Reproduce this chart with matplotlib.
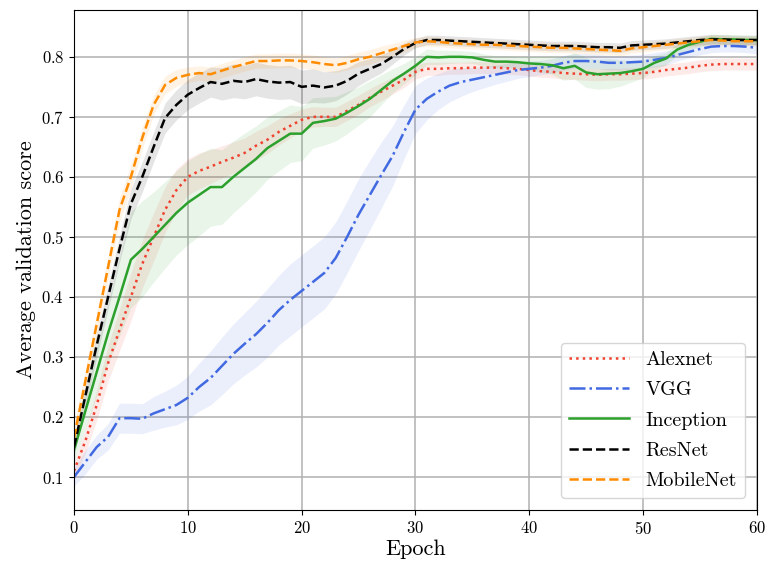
import matplotlib
matplotlib.use("Agg")
import matplotlib.pyplot as plt
import numpy as np

plt.rcParams["font.family"] = "serif"
plt.rcParams["font.serif"] = ["cmr10", "DejaVu Serif"]
plt.rcParams["mathtext.fontset"] = "cm"
plt.rcParams["axes.formatter.use_mathtext"] = True

epochs = np.arange(61)

alexnet = [0.11, 0.16, 0.22, 0.29, 0.345, 0.40, 0.455, 0.50, 0.545, 0.578,
           0.60, 0.61, 0.617, 0.625, 0.632, 0.64, 0.652, 0.662, 0.675, 0.685,
           0.695, 0.70, 0.70, 0.70, 0.71, 0.72, 0.732, 0.742, 0.752, 0.762,
           0.775, 0.78, 0.78, 0.781, 0.781, 0.782, 0.782, 0.782, 0.781, 0.78,
           0.778, 0.776, 0.775, 0.773, 0.772, 0.771, 0.77, 0.771, 0.771, 0.772,
           0.773, 0.775, 0.778, 0.78, 0.782, 0.785, 0.787, 0.788, 0.788, 0.788,
           0.788]
alexnet_std = [0.015, 0.02, 0.025, 0.03, 0.035, 0.04, 0.04, 0.04, 0.038, 0.035,
               0.03, 0.03, 0.028, 0.027, 0.026, 0.025, 0.024, 0.023, 0.022, 0.02,
               0.018, 0.017, 0.016, 0.016, 0.016, 0.016, 0.015, 0.015, 0.014, 0.013,
               0.012, 0.011, 0.011, 0.01, 0.01, 0.01, 0.01, 0.01, 0.01, 0.01,
               0.01, 0.01, 0.01, 0.01, 0.01, 0.01, 0.01, 0.01, 0.01, 0.01,
               0.01, 0.01, 0.01, 0.01, 0.01, 0.01, 0.01, 0.01, 0.01, 0.01,
               0.01]

vgg = [0.10, 0.125, 0.15, 0.167, 0.198, 0.198, 0.197, 0.206, 0.213, 0.22,
       0.232, 0.25, 0.265, 0.285, 0.305, 0.322, 0.338, 0.357, 0.378, 0.395,
       0.41, 0.425, 0.44, 0.465, 0.50, 0.537, 0.57, 0.603, 0.635, 0.675,
       0.712, 0.73, 0.742, 0.752, 0.758, 0.762, 0.766, 0.77, 0.774, 0.778,
       0.78, 0.782, 0.785, 0.79, 0.793, 0.793, 0.792, 0.79, 0.79, 0.791,
       0.792, 0.795, 0.798, 0.803, 0.808, 0.813, 0.817, 0.818, 0.818, 0.817,
       0.815]
vgg_std = [0.015, 0.02, 0.02, 0.022, 0.025, 0.025, 0.025, 0.028, 0.03, 0.033,
           0.036, 0.04, 0.045, 0.048, 0.05, 0.052, 0.055, 0.057, 0.058, 0.06,
           0.06, 0.06, 0.06, 0.06, 0.06, 0.06, 0.058, 0.055, 0.05, 0.045,
           0.04, 0.035, 0.03, 0.027, 0.024, 0.02, 0.018, 0.016, 0.015, 0.014,
           0.013, 0.012, 0.012, 0.012, 0.012, 0.012, 0.012, 0.012, 0.012, 0.012,
           0.012, 0.012, 0.012, 0.01, 0.01, 0.01, 0.01, 0.01, 0.01, 0.01,
           0.01]

inception = [0.145, 0.21, 0.275, 0.34, 0.40, 0.462, 0.48, 0.50, 0.52, 0.54,
             0.557, 0.57, 0.583, 0.583, 0.60, 0.615, 0.63, 0.648, 0.66, 0.672,
             0.672, 0.69, 0.693, 0.697, 0.707, 0.718, 0.73, 0.745, 0.76, 0.772,
             0.785, 0.80, 0.799, 0.80, 0.80, 0.799, 0.795, 0.792, 0.792, 0.791,
             0.789, 0.788, 0.786, 0.781, 0.785, 0.774, 0.771, 0.772, 0.773, 0.776,
             0.78, 0.79, 0.797, 0.812, 0.82, 0.825, 0.83, 0.829, 0.829, 0.828,
             0.828]
inception_std = [0.02, 0.03, 0.04, 0.05, 0.065, 0.08, 0.08, 0.075, 0.072, 0.07,
                 0.07, 0.068, 0.065, 0.062, 0.06, 0.058, 0.055, 0.052, 0.05, 0.048,
                 0.045, 0.042, 0.04, 0.037, 0.035, 0.032, 0.03, 0.025, 0.02, 0.017,
                 0.015, 0.013, 0.012, 0.011, 0.01, 0.01, 0.01, 0.01, 0.01, 0.01,
                 0.012, 0.013, 0.015, 0.02, 0.022, 0.025, 0.025, 0.025, 0.022, 0.018,
                 0.015, 0.012, 0.01, 0.01, 0.008, 0.008, 0.008, 0.008, 0.008, 0.008,
                 0.008]

resnet = [0.15, 0.235, 0.32, 0.40, 0.48, 0.555, 0.60, 0.65, 0.698, 0.72,
          0.737, 0.748, 0.758, 0.755, 0.76, 0.758, 0.763, 0.759, 0.757, 0.758,
          0.75, 0.752, 0.749, 0.752, 0.76, 0.772, 0.78, 0.788, 0.80, 0.813,
          0.823, 0.828, 0.828, 0.827, 0.826, 0.825, 0.824, 0.823, 0.822, 0.821,
          0.82, 0.819, 0.818, 0.818, 0.818, 0.817, 0.816, 0.816, 0.815, 0.819,
          0.82, 0.821, 0.822, 0.824, 0.826, 0.828, 0.829, 0.829, 0.828, 0.828,
          0.828]
resnet_std = [0.015, 0.018, 0.02, 0.02, 0.022, 0.025, 0.025, 0.025, 0.025, 0.025,
              0.025, 0.025, 0.025, 0.027, 0.028, 0.028, 0.028, 0.028, 0.028, 0.028,
              0.028, 0.028, 0.026, 0.025, 0.022, 0.02, 0.017, 0.015, 0.012, 0.01,
              0.008, 0.008, 0.008, 0.008, 0.008, 0.008, 0.008, 0.008, 0.008, 0.008,
              0.008, 0.008, 0.008, 0.008, 0.008, 0.008, 0.008, 0.008, 0.008, 0.008,
              0.008, 0.008, 0.008, 0.008, 0.008, 0.008, 0.008, 0.008, 0.008, 0.008,
              0.008]

mobilenet = [0.165, 0.26, 0.355, 0.45, 0.545, 0.60, 0.665, 0.72, 0.753, 0.765,
             0.77, 0.773, 0.771, 0.777, 0.783, 0.788, 0.793, 0.793, 0.794, 0.794,
             0.793, 0.791, 0.788, 0.786, 0.79, 0.796, 0.80, 0.806, 0.812, 0.818,
             0.824, 0.826, 0.825, 0.823, 0.822, 0.821, 0.82, 0.82, 0.819, 0.818,
             0.817, 0.816, 0.815, 0.815, 0.814, 0.813, 0.812, 0.811, 0.81, 0.814,
             0.816, 0.818, 0.82, 0.822, 0.824, 0.826, 0.828, 0.827, 0.826, 0.826,
             0.826]
mobilenet_std = [0.02, 0.02, 0.02, 0.02, 0.02, 0.02, 0.018, 0.016, 0.015, 0.014,
                 0.013, 0.012, 0.012, 0.012, 0.012, 0.012, 0.012, 0.012, 0.012, 0.012,
                 0.012, 0.012, 0.012, 0.012, 0.012, 0.012, 0.012, 0.012, 0.01, 0.01,
                 0.008, 0.008, 0.008, 0.008, 0.008, 0.008, 0.008, 0.008, 0.008, 0.008,
                 0.008, 0.008, 0.008, 0.008, 0.008, 0.008, 0.008, 0.008, 0.008, 0.008,
                 0.008, 0.008, 0.008, 0.008, 0.008, 0.008, 0.008, 0.008, 0.008, 0.008,
                 0.008]

series = [
    ("Alexnet", alexnet, alexnet_std, "#f0402e", ":", 0.1),
    ("VGG", vgg, vgg_std, "royalblue", "-.", 0.1),
    ("Inception", inception, inception_std, "#2ca02c", "-", 0.1),
    ("ResNet", resnet, resnet_std, "black", "--", 0.1),
    ("MobileNet", mobilenet, mobilenet_std, "darkorange", "--", 0.1),
]

fig = plt.figure(figsize=(7.66, 5.65), dpi=100)
ax = fig.add_axes([0.0966, 0.0973, 0.8914, 0.885])

for name, mean, std, color, ls, alpha in series:
    mean = np.array(mean)
    std = np.array(std)
    ax.fill_between(epochs, mean - std, mean + std, color=color, alpha=alpha, lw=0)
    ax.plot(epochs, mean, ls=ls, color=color, lw=1.8, label=name)

ax.set_xlim(0, 60)
ax.set_ylim(0.045, 0.878)
ax.set_xticks([0, 10, 20, 30, 40, 50, 60])
ax.set_yticks([0.1, 0.2, 0.3, 0.4, 0.5, 0.6, 0.7, 0.8])
ax.grid(True, color="#b0b0b0", lw=1.1)
ax.set_axisbelow(True)
ax.tick_params(labelsize=12)
ax.set_xlabel("Epoch", fontsize=16, labelpad=2)
ax.set_ylabel("Average validation score", fontsize=16)

leg = ax.legend(loc="lower right", fontsize=14.5, handlelength=3.0,
                labelspacing=0.6, borderaxespad=0.6, framealpha=0.8)
leg.get_frame().set_edgecolor("#cccccc")

fig.savefig("out.png", dpi=100)
